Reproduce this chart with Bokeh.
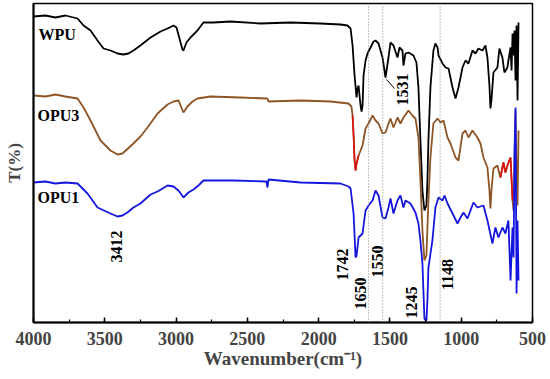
import math
from bokeh.plotting import figure
from bokeh.models import Range1d, SingleIntervalTicker, FixedTicker, Span, ColumnDataSource
from bokeh.core.properties import value
from bokeh.embed import file_html
from bokeh.resources import INLINE

# ---------------- data (wavenumber cm-1, transmittance in arbitrary offset units) ----------------
wpu_wn = [4000, 3916, 3846, 3776, 3691, 3649, 3600, 3551, 3509, 3460, 3411, 3369, 3334, 3299, 3250,
          3179, 3109, 3060, 3018, 2997, 2976, 2955, 2948, 2927, 2899, 2878, 2850, 2829, 2808, 2737,
          2618, 2408, 2197, 1987, 1847, 1798, 1776, 1762, 1748, 1734, 1727, 1720, 1706, 1699, 1692,
          1685, 1671, 1657, 1636, 1615, 1601, 1580, 1552, 1531, 1510, 1496, 1475, 1447, 1433, 1412,
          1405, 1391, 1370, 1335, 1314, 1300, 1286, 1272, 1258, 1244, 1237, 1230, 1216, 1195, 1181,
          1166, 1159, 1131, 1110, 1089, 1061, 1040, 1019, 991, 970, 949, 921, 900, 879, 851, 830,
          816, 802, 795, 788, 774, 746, 732, 711, 697, 676, 669, 654, 647, 640, 633, 626, 619, 612,
          605, 598]
wpu_t = [306, 307, 305, 307, 304, 297, 292, 282, 274, 272, 269, 268, 269, 272, 277,
         285, 291, 294, 297, 295, 284, 273, 272, 280, 285, 288, 292, 296, 300, 300,
         301, 299, 300, 299, 298, 297, 294, 277, 247, 225, 234, 237, 217, 211, 217,
         247, 262, 269, 275, 281, 282, 279, 265, 245, 265, 280, 277, 265, 275, 272,
         257, 269, 270, 267, 260, 235, 182, 132, 112, 117, 142, 182, 235, 272, 279,
         275, 267, 259, 255, 254, 235, 224, 235, 255, 262, 259, 272, 269, 274, 272, 277,
         265, 237, 214, 222, 250, 255, 274, 265, 250, 255, 262, 275, 252, 289, 267, 292, 242, 297,
         222, 300]

opu3_wn = [4000, 3916, 3846, 3776, 3691, 3649, 3600, 3530, 3460, 3411, 3376, 3299, 3250, 3200, 3130,
           3060, 3018, 2983, 2948, 2920, 2885, 2850, 2759, 2548, 2359, 2352, 2127, 1917, 1791, 1770,
           1762, 1755, 1748, 1741, 1734, 1720, 1692, 1671, 1650, 1622, 1601, 1580, 1552, 1531, 1510,
           1496, 1475, 1447, 1426, 1405, 1370, 1342, 1321, 1300, 1286, 1272, 1258, 1244, 1230, 1216,
           1195, 1166, 1145, 1124, 1096, 1075, 1040, 1019, 991, 970, 949, 921, 886, 865, 844, 816,
           802, 795, 788, 774, 746, 725, 704, 690, 676, 654, 640, 633, 619, 612, 605, 598]
opu3_t = [227, 226, 228, 226, 224, 215, 202, 182, 172, 168, 169, 179, 186, 195, 209,
          218, 221, 222, 210, 216, 221, 224, 226, 225, 224, 221, 222, 221, 219, 216,
          207, 187, 162, 152, 159, 167, 177, 194, 199, 207, 202, 199, 189, 190, 199,
          204, 195, 205, 199, 205, 212, 207, 204, 185, 142, 92, 62, 67, 122, 165,
          199, 204, 200, 202, 185, 179, 165, 162, 189, 192, 185, 192, 185, 179, 165, 155,
          132, 114, 132, 154, 157, 145, 160, 150, 157, 165, 122, 112, 212, 142, 117, 192]

opu1_wn = [4000, 3916, 3846, 3776, 3691, 3621, 3551, 3460, 3411, 3376, 3341, 3299, 3250, 3179, 3130,
           3060, 3018, 2983, 2948, 2913, 2878, 2843, 2808, 2597, 2366, 2359, 2352, 2127, 1847, 1791,
           1776, 1755, 1741, 1734, 1720, 1692, 1671, 1650, 1622, 1601, 1580, 1552, 1531, 1510, 1496,
           1475, 1447, 1426, 1405, 1391, 1356, 1321, 1300, 1286, 1272, 1258, 1244, 1237, 1230, 1202,
           1181, 1159, 1131, 1117, 1096, 1061, 1026, 1005, 984, 956, 935, 914, 886, 844, 816,
           781, 760, 739, 711, 690, 669, 654, 640, 633, 626, 619, 612, 605, 598]
opu1_t = [140, 141, 139, 140, 139, 129, 115, 109, 106, 107, 110, 115, 119, 128, 131,
          137, 136, 132, 125, 130, 133, 137, 142, 142, 141, 135, 143, 140, 139, 136,
          134, 109, 65, 67, 85, 89, 112, 117, 122, 132, 127, 105, 104, 115, 124,
          109, 122, 127, 115, 122, 119, 110, 99, 82, 59, 4, 2, 22, 55, 82,
          115, 125, 122, 127, 119, 109, 99, 105, 110, 104, 112, 120, 115, 117, 102,
          79, 95, 85, 95, 89, 102, 42, 95, 65, 172, 215, 29, 102, 42]

series_names = ["WPU", "OPU3", "OPU1"]
peak_marks = [1650, 1550, 1148]
peak_labels = ["3412", "1742", "1650", "1550", "1245", "1148", "1531"]

# ---------------- figure ----------------
FONT = "Liberation Serif"
p = figure(width=546, height=377, output_backend="svg", toolbar_location=None,
           x_range=Range1d(4000, 500), y_range=Range1d(0, 319),
           min_border_left=33, min_border_right=14, min_border_top=3, min_border_bottom=55)
p.xgrid.visible = False
p.ygrid.visible = False
p.outline_line_color = "black"
p.outline_line_width = 1.5
p.background_fill_color = "white"
p.border_fill_color = "white"

# x axis
p.xaxis.ticker = SingleIntervalTicker(interval=500, num_minor_ticks=2)
p.xaxis.axis_label = "Wavenumber(cm\u207b\u00b9)"
p.xaxis.axis_label_text_font = FONT
p.xaxis.axis_label_text_font_style = "bold"
p.xaxis.axis_label_text_font_size = "19px"
p.xaxis.axis_label_standoff = 0
p.xaxis.major_label_text_font = FONT
p.xaxis.major_label_text_font_style = "bold"
p.xaxis.major_label_text_font_size = "18px"
p.xaxis.major_label_standoff = 9
p.xaxis.major_tick_in = 5
p.xaxis.major_tick_out = 0
p.xaxis.minor_tick_in = 3
p.xaxis.minor_tick_out = 0
p.xaxis.axis_line_width = 2
p.xaxis.major_tick_line_width = 1.5
p.xaxis.minor_tick_line_width = 1.2

# y axis
p.yaxis.ticker = FixedTicker(ticks=[])
p.yaxis.axis_label = "T(%)"
p.yaxis.axis_label_text_font = FONT
p.yaxis.axis_label_text_font_style = "bold"
p.yaxis.axis_label_text_font_size = "17px"
p.yaxis.axis_label_standoff = 10
p.yaxis.major_label_standoff = 0
p.yaxis.major_tick_out = 0
p.yaxis.major_tick_in = 0
p.yaxis.minor_tick_out = 0
p.yaxis.minor_tick_in = 0
p.yaxis.axis_line_width = 2

# dotted guide lines
for wn in peak_marks:
    p.add_layout(Span(location=wn, dimension="height", line_color="#888888",
                      line_dash="1 2", line_width=1))

# spectra
p.line(wpu_wn, wpu_t, line_color="black", line_width=1.8)
p.line(opu3_wn, opu3_t, line_color="#8E5424", line_width=1.8)
# reddish portions of OPU3
def seg(xs, ys, hi, lo):
    idx = [i for i, x in enumerate(xs) if lo <= x <= hi]
    return [xs[i] for i in idx], [ys[i] for i in idx]
rx, ry = seg(opu3_wn, opu3_t, 1762, 1720)
p.line(rx, ry, line_color="#E01010", line_width=1.6)
rx, ry = seg(opu3_wn, opu3_t, 725, 640)
p.line(rx, ry, line_color="#E01010", line_width=1.6)
p.line(opu1_wn, opu1_t, line_color="#1515E0", line_width=1.8)

# series names
name_src = ColumnDataSource(dict(x=[3965, 3972, 3972], y=[288, 207, 125], t=series_names))
p.text(x="x", y="y", text="t", source=name_src, text_font=value(FONT), text_font_style="bold",
       text_font_size="16px", text_align="left", text_baseline="middle", text_color="black")

# rotated peak labels
lab_src = ColumnDataSource(dict(x=[3418, 1833, 1706, 1587, 1349, 1096, 1412],
                                y=[76, 58, 29, 61, 20, 48, 233], t=peak_labels))
p.text(x="x", y="y", text="t", source=lab_src, angle=math.pi / 2, text_font=value(FONT),
       text_font_style="bold", text_font_size="16px", text_align="center",
       text_baseline="middle", text_color="black")
# leader line for 1531
p.segment(x0=[1524], y0=[243], x1=[1468], y1=[234], line_color="black", line_width=1)

open("out.html", "w").write(file_html(p, INLINE))
